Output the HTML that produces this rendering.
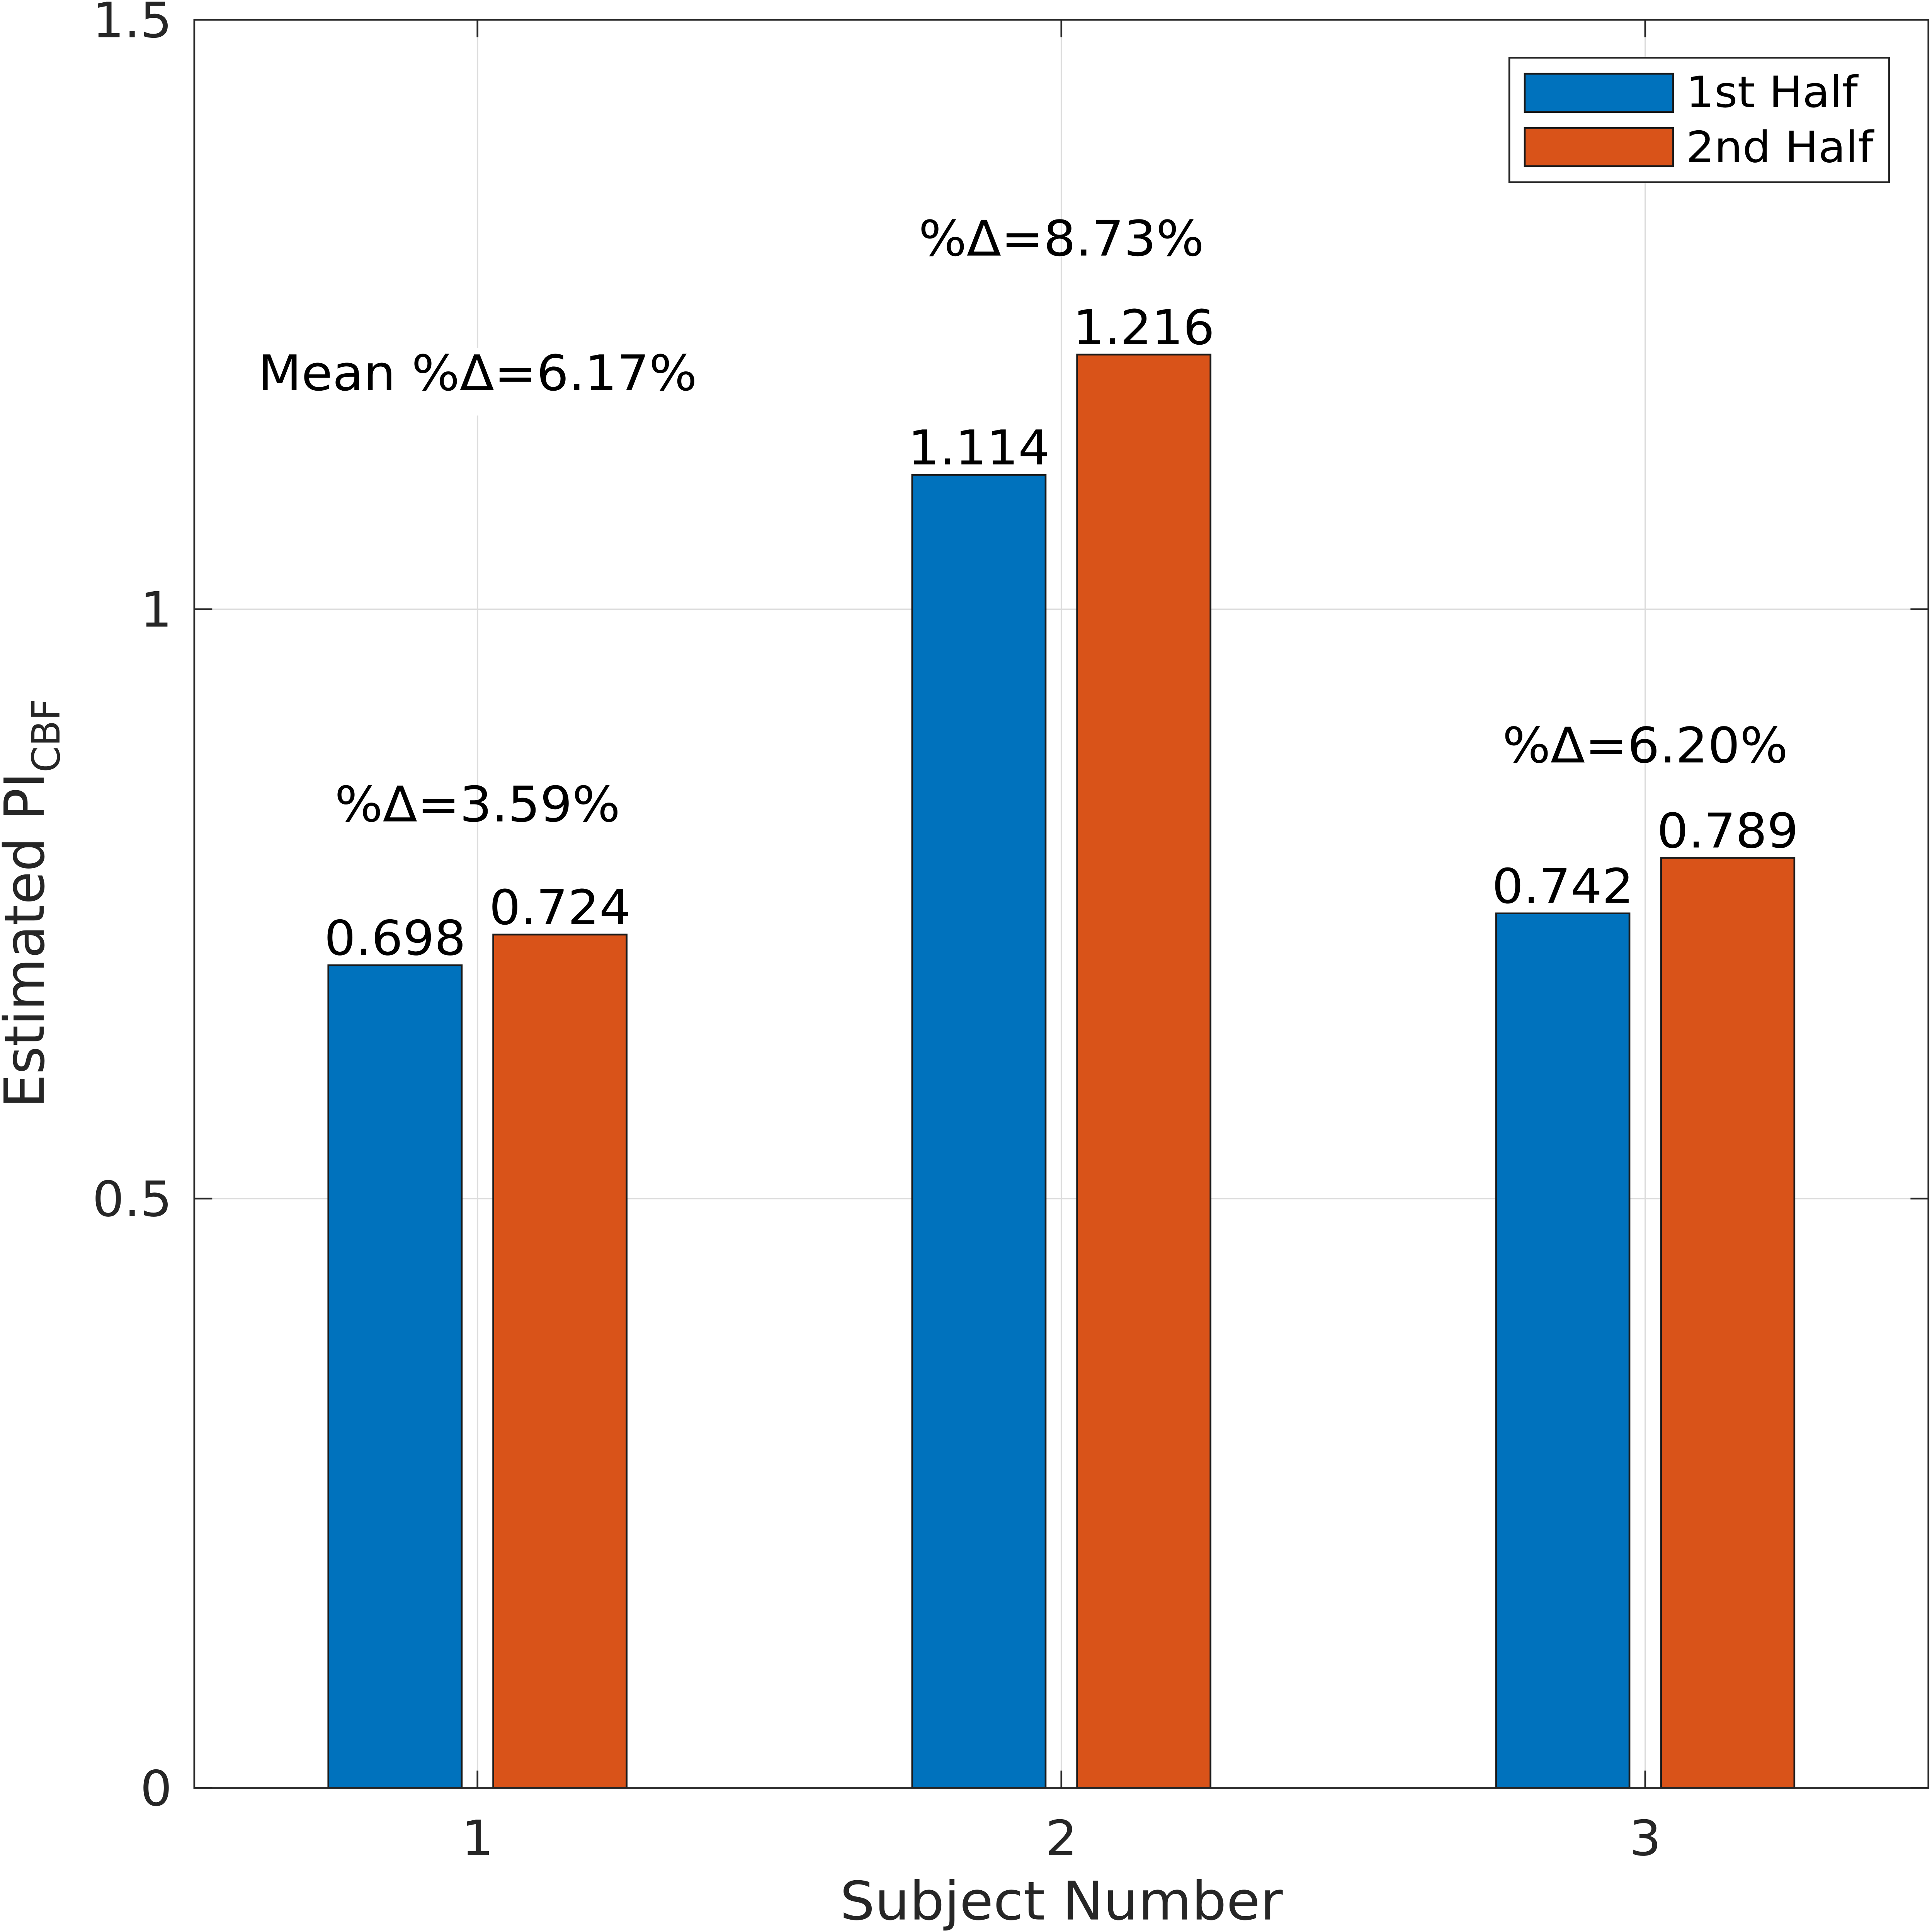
<!DOCTYPE html>
<html><head><meta charset="utf-8">
<style>
html,body{margin:0;padding:0;background:#fff;overflow:hidden;width:100%;height:100%;}
svg{display:block;width:100vw;height:100vh;font-family:"DejaVu Sans","Liberation Sans",sans-serif;}
</style></head>
<body>
<svg id="chart" viewBox="0 0 5389 5556" preserveAspectRatio="none" xmlns="http://www.w3.org/2000/svg">
<rect x="0" y="0" width="5389" height="5556" fill="#fff"/>
</svg>
<script>
const categories = [1, 2, 3];
const firstHalf = [0.698, 1.114, 0.742];
const secondHalf = [0.724, 1.216, 0.789];
const pctLabels = ["%Δ=3.59%", "%Δ=8.73%", "%Δ=6.20%"];
const pctValues = [0.82, 1.30, 0.87];
const yTicks = [0, 0.5, 1, 1.5];
const yTickLabels = ["0", "0.5", "1", "1.5"];
const seriesNames = ["1st Half", "2nd Half"];
const meanLabel = "Mean %Δ=6.17%";

const NS = "http://www.w3.org/2000/svg";
const svg = document.getElementById('chart');
const L = 542, R = 5379, T = 57, B = 5142;
const yMin = 0, yMax = 1.5, xMin = 0.515, xMax = 3.485;
function sx(v){ return L + (v - xMin) / (xMax - xMin) * (R - L); }
function sy(v){ return B - (v - yMin) / (yMax - yMin) * (B - T); }
function mk(tag, attrs, parent){
  const e = document.createElementNS(NS, tag);
  for (const k in attrs) e.setAttribute(k, attrs[k]);
  (parent || svg).appendChild(e);
  return e;
}
const colors = ["#0072BD", "#D95319"];
const barW = 372, off = 230, fs = 141, vfs = 138, tfs = 140;

const grid = mk('g', {});


yTicks.forEach(t => {
  const l = mk('line', {x1: L, x2: R, y1: sy(t), y2: sy(t), stroke: '#dcdcdc', 'stroke-width': 4}, grid);
  
  
});
categories.forEach(c => {
  const l = mk('line', {x1: sx(c), x2: sx(c), y1: T, y2: B, stroke: '#dcdcdc', 'stroke-width': 4}, grid);
  
  
});

const bg = mk('rect', {x: sx(1) - 680, y: 1000, width: 1360, height: 195, fill: '#fff'});
const mt = mk('text', {x: sx(1), y: 1122, 'text-anchor': 'middle', 'font-size': fs, fill: '#000'});
mt.textContent = meanLabel;



[firstHalf, secondHalf].forEach((series, si) => {
  series.forEach((v, i) => {
    const cx = sx(categories[i]) + (si === 0 ? -off : off);
    const r = mk('rect', {x: cx - barW/2, y: sy(v), width: barW, height: sy(0) - sy(v), fill: colors[si], stroke: '#1a1a1a', 'stroke-width': 5});
    
    
    const t = mk('text', {x: cx, y: sy(v) - 30, 'text-anchor': 'middle', 'font-size': vfs, fill: '#000'});
    t.textContent = v.toFixed(3);
    
    
  });
});

pctLabels.forEach((s, i) => {
  const t = mk('text', {x: sx(categories[i]), y: sy(pctValues[i]), 'text-anchor': 'middle', 'font-size': fs, fill: '#000'});
  t.textContent = s;
  
  
});

const box = mk('rect', {x: L, y: T, width: R - L, height: B - T, fill: 'none', stroke: '#262626', 'stroke-width': 5});



yTicks.forEach((t, i) => {
  mk('line', {x1: L, x2: L + 50, y1: sy(t), y2: sy(t), stroke: '#262626', 'stroke-width': 5});
  mk('line', {x1: R, x2: R - 50, y1: sy(t), y2: sy(t), stroke: '#262626', 'stroke-width': 5});
  const tl = mk('text', {x: 480, y: sy(t) + 50, 'text-anchor': 'end', 'font-size': tfs, fill: '#262626'});
  tl.textContent = yTickLabels[i];
  
  
});
categories.forEach(c => {
  mk('line', {x1: sx(c), x2: sx(c), y1: B, y2: B - 50, stroke: '#262626', 'stroke-width': 5});
  mk('line', {x1: sx(c), x2: sx(c), y1: T, y2: T + 50, stroke: '#262626', 'stroke-width': 5});
  const tl = mk('text', {x: sx(c), y: 5335, 'text-anchor': 'middle', 'font-size': tfs, fill: '#262626'});
  tl.textContent = String(c);
  
  
});

const xt = mk('text', {x: (L + R) / 2, y: 5520, 'text-anchor': 'middle', 'font-size': 153, fill: '#262626'});
xt.textContent = 'Subject Number';


const yt = mk('text', {x: 0, y: 0, 'text-anchor': 'middle', 'font-size': 154, fill: '#262626', transform: 'translate(122,2598) rotate(-90)'});
yt.innerHTML = 'Estimated PI<tspan font-size="108" dy="44">CBF</tspan>';



const lg = mk('g', {});


mk('rect', {x: 4210, y: 166, width: 1059, height: 358, fill: '#fff', stroke: '#262626', 'stroke-width': 5}, lg);
seriesNames.forEach((n, i) => {
  const e = mk('g', {}, lg);
  
  
  mk('rect', {x: 4253, y: 212 + i * 156, width: 414, height: 110, fill: colors[i], stroke: '#1a1a1a', 'stroke-width': 5}, e);
  const t = mk('text', {x: 4703, y: 308 + i * 158, 'font-size': 124, fill: '#000'}, e);
  t.textContent = n;
});
</script>
</body></html>
